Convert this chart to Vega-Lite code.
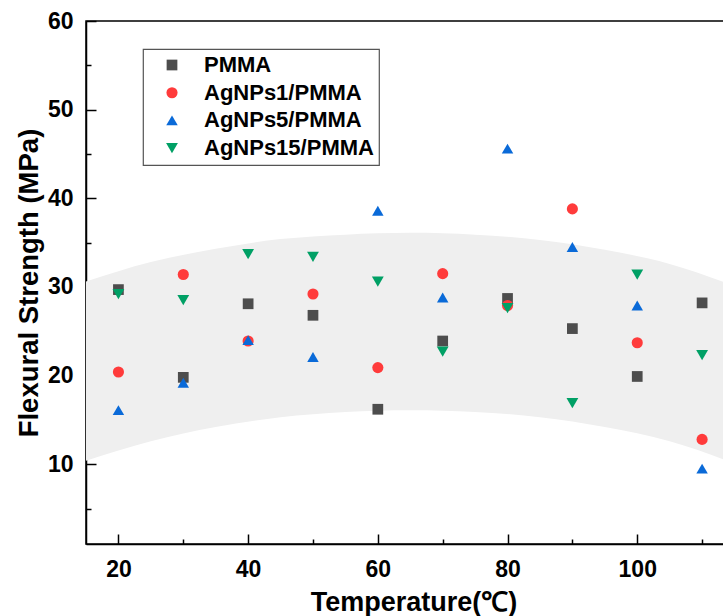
{
  "$schema": "https://vega.github.io/schema/vega-lite/v6.json",
  "width": 655,
  "height": 523,
  "autosize": {"type": "none"},
  "padding": {"left": 86, "top": 21, "right": 0, "bottom": 72},
  "config": {
    "font": "Liberation Sans",
    "view": {"stroke": "black", "strokeWidth": 1.5},
    "legend": {
      "orient": "none",
      "legendX": 57,
      "legendY": 28,
      "strokeColor": "#555555",
      "strokeWidth": 1.2,
      "padding": 5,
      "labelFont": "Liberation Sans",
      "labelFontSize": 22,
      "labelFontWeight": "bold",
      "labelColor": "black",
      "labelLimit": 400,
      "rowPadding": 5.7,
      "symbolOffset": 13,
      "labelOffset": 21,
      "symbolStrokeWidth": 0,
      "symbolOpacity": 1
    }
  },
  "datasets": {
    "band": [
      {"x": 15, "upper": 30.6, "lower": 10.4},
      {"x": 25, "upper": 32.8, "lower": 12.6},
      {"x": 35, "upper": 34.3, "lower": 14.2},
      {"x": 45, "upper": 35.4, "lower": 15.3},
      {"x": 55, "upper": 35.9, "lower": 15.9},
      {"x": 65, "upper": 36.1, "lower": 16.1},
      {"x": 75, "upper": 35.9, "lower": 15.9},
      {"x": 85, "upper": 35.3, "lower": 15.3},
      {"x": 95, "upper": 34.2, "lower": 14.2},
      {"x": 105, "upper": 32.6, "lower": 12.6},
      {"x": 116, "upper": 29.8, "lower": 9.8}
    ],
    "points": [
      {"t": 20, "s": 29.7, "series": "PMMA"},
      {"t": 30, "s": 19.8, "series": "PMMA"},
      {"t": 40, "s": 28.1, "series": "PMMA"},
      {"t": 50, "s": 26.8, "series": "PMMA"},
      {"t": 60, "s": 16.2, "series": "PMMA"},
      {"t": 70, "s": 23.9, "series": "PMMA"},
      {"t": 80, "s": 28.7, "series": "PMMA"},
      {"t": 90, "s": 25.3, "series": "PMMA"},
      {"t": 100, "s": 19.9, "series": "PMMA"},
      {"t": 110, "s": 28.2, "series": "PMMA"},
      {"t": 20, "s": 20.4, "series": "AgNPs1/PMMA"},
      {"t": 30, "s": 31.4, "series": "AgNPs1/PMMA"},
      {"t": 40, "s": 23.9, "series": "AgNPs1/PMMA"},
      {"t": 50, "s": 29.2, "series": "AgNPs1/PMMA"},
      {"t": 60, "s": 20.9, "series": "AgNPs1/PMMA"},
      {"t": 70, "s": 31.5, "series": "AgNPs1/PMMA"},
      {"t": 80, "s": 27.9, "series": "AgNPs1/PMMA"},
      {"t": 90, "s": 38.8, "series": "AgNPs1/PMMA"},
      {"t": 100, "s": 23.7, "series": "AgNPs1/PMMA"},
      {"t": 110, "s": 12.8, "series": "AgNPs1/PMMA"},
      {"t": 20, "s": 16.1, "series": "AgNPs5/PMMA"},
      {"t": 30, "s": 19.2, "series": "AgNPs5/PMMA"},
      {"t": 40, "s": 24.0, "series": "AgNPs5/PMMA"},
      {"t": 50, "s": 22.1, "series": "AgNPs5/PMMA"},
      {"t": 60, "s": 38.6, "series": "AgNPs5/PMMA"},
      {"t": 70, "s": 28.8, "series": "AgNPs5/PMMA"},
      {"t": 80, "s": 45.6, "series": "AgNPs5/PMMA"},
      {"t": 90, "s": 34.5, "series": "AgNPs5/PMMA"},
      {"t": 100, "s": 27.9, "series": "AgNPs5/PMMA"},
      {"t": 110, "s": 9.5, "series": "AgNPs5/PMMA"},
      {"t": 20, "s": 29.2, "series": "AgNPs15/PMMA"},
      {"t": 30, "s": 28.5, "series": "AgNPs15/PMMA"},
      {"t": 40, "s": 33.7, "series": "AgNPs15/PMMA"},
      {"t": 50, "s": 33.4, "series": "AgNPs15/PMMA"},
      {"t": 60, "s": 30.6, "series": "AgNPs15/PMMA"},
      {"t": 70, "s": 22.7, "series": "AgNPs15/PMMA"},
      {"t": 80, "s": 27.6, "series": "AgNPs15/PMMA"},
      {"t": 90, "s": 16.9, "series": "AgNPs15/PMMA"},
      {"t": 100, "s": 31.4, "series": "AgNPs15/PMMA"},
      {"t": 110, "s": 22.3, "series": "AgNPs15/PMMA"}
    ]
  },
  "layer": [
    {
      "data": {"name": "band"},
      "mark": {"type": "area", "color": "#efefef", "interpolate": "monotone"},
      "encoding": {
        "x": {
          "field": "x",
          "type": "quantitative",
          "scale": {"domain": [15, 116], "nice": false, "zero": false},
          "axis": {
            "orient": "bottom",
            "values": [20, 40, 60, 80, 100],
            "tickSize": -10,
            "tickWidth": 1.5,
            "tickColor": "black",
            "domainColor": "black",
            "domainWidth": 1.5,
            "grid": false,
            "labelFontSize": 23,
            "labelFontWeight": "bold",
            "labelColor": "black",
            "labelPadding": 24,
            "title": "Temperature(℃)",
            "titleFontSize": 27,
            "titleFontWeight": "bold",
            "titleColor": "black",
            "titlePadding": 8
          }
        },
        "y": {
          "field": "upper",
          "type": "quantitative",
          "scale": {"domain": [1, 60], "nice": false, "zero": false},
          "axis": {
            "orient": "left",
            "values": [10, 20, 30, 40, 50, 60],
            "tickSize": -10,
            "tickWidth": 1.5,
            "tickColor": "black",
            "domainColor": "black",
            "domainWidth": 1.5,
            "grid": false,
            "labelFontSize": 23,
            "labelFontWeight": "bold",
            "labelColor": "black",
            "labelPadding": 23,
            "title": "Flexural Strength (MPa)",
            "titleFontSize": 27.5,
            "titleFontWeight": "bold",
            "titleColor": "black",
            "titlePadding": 4
          }
        },
        "y2": {"field": "lower"}
      }
    },
    {
      "data": {"name": "points"},
      "mark": {"type": "point", "filled": true, "opacity": 1, "strokeWidth": 0},
      "encoding": {
        "x": {
          "field": "t",
          "type": "quantitative",
          "scale": {"domain": [15, 116], "nice": false, "zero": false},
          "axis": {
            "orient": "bottom",
            "values": [30, 50, 70, 90, 110],
            "tickSize": -5,
            "tickWidth": 1.5,
            "tickColor": "black",
            "domain": false,
            "labels": false,
            "grid": false,
            "title": null
          }
        },
        "y": {
          "field": "s",
          "type": "quantitative",
          "scale": {"domain": [1, 60], "nice": false, "zero": false},
          "axis": {
            "orient": "left",
            "values": [5, 15, 25, 35, 45, 55],
            "tickSize": -5,
            "tickWidth": 1.5,
            "tickColor": "black",
            "domain": false,
            "labels": false,
            "grid": false,
            "title": null
          }
        },
        "color": {
          "field": "series",
          "type": "nominal",
          "scale": {
            "domain": ["PMMA", "AgNPs1/PMMA", "AgNPs5/PMMA", "AgNPs15/PMMA"],
            "range": ["#4d4d4d", "#ff3b3b", "#0a6ad8", "#00a065"]
          },
          "legend": {"title": null}
        },
        "shape": {
          "field": "series",
          "type": "nominal",
          "scale": {
            "domain": ["PMMA", "AgNPs1/PMMA", "AgNPs5/PMMA", "AgNPs15/PMMA"],
            "range": ["square", "circle", "triangle-up", "triangle-down"]
          },
          "legend": {"title": null}
        },
        "size": {
          "field": "series",
          "type": "nominal",
          "scale": {
            "domain": ["PMMA", "AgNPs1/PMMA", "AgNPs5/PMMA", "AgNPs15/PMMA"],
            "range": [115, 140, 175, 175]
          },
          "legend": null
        }
      }
    }
  ],
  "resolve": {"axis": {"x": "independent", "y": "independent"}}
}
